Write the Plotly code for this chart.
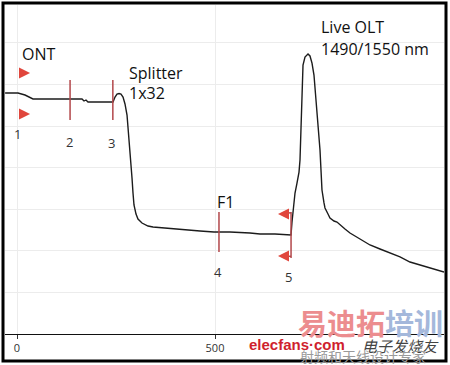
import plotly.graph_objects as go

# ---- OTDR trace (distance in m, relative level in dB) ----
dist = [-30, 2.5, 20.2, 40.4, 108.6, 164.1, 169.2, 174.2, 179.3, 242.4, 247.5, 252.5,
        257.6, 262.6, 267.7, 272.7, 277.8, 280.3, 285.3, 287.9, 290.4, 292.9, 295.4,
        300.5, 305.5, 315.6, 330.8, 343.4, 373.7, 411.6, 462.1, 497.4, 537.8, 588.3,
        613.6, 651.5, 691.9, 694.4, 696.9, 702.0, 707.0, 712.1, 714.6, 717.1, 719.6,
        722.2, 727.2, 734.8, 739.8, 744.9, 749.9, 755.0, 760.0, 762.6, 765.1, 767.6,
        770.1, 775.2, 777.7, 785.3, 790.3, 800.4, 808.0, 828.2, 840.8, 866.1, 891.3,
        916.6, 941.8, 967.1, 992.3, 1017.6, 1042.8, 1060.5, 1078.2]
level = [28.97, 28.97, 28.73, 28.25, 28.25, 28.25, 28.01, 28.13, 27.89, 27.89, 28.49, 28.85,
         28.91, 28.85, 28.49, 27.65, 26.32, 24.88, 22.72, 20.55, 18.75, 16.95, 15.51,
         14.42, 13.82, 13.34, 12.98, 12.86, 12.74, 12.50, 12.38, 12.26, 12.26, 12.14,
         12.02, 12.02, 11.90, 13.46, 14.90, 16.95, 18.15, 19.47, 20.91, 24.52, 28.73,
         32.33, 33.30, 33.66, 33.42, 32.57, 31.13, 28.13, 25.72, 23.92, 22.12, 19.71,
         17.31, 15.75, 15.15, 14.42, 13.94, 13.58, 13.46, 12.62, 12.14, 11.42, 10.70,
         10.22, 9.74, 9.26, 8.65, 8.29, 7.93, 7.69, 7.45]

# ---- events ----
event_ids = ["1", "2", "3", "4", "5"]
event_dist = [0, 134, 242, 510, 692]
event_top = [None, 30.53, 30.53, 14.66, 14.66]
event_bottom = [None, 25.72, 25.72, 9.86, 9.14]
event_label_level = [24.0, 23.1, 22.96, 7.45, 6.85]

x_tickvals = [0, 500]
x_ticktext = ["0", "500"]

X_RANGE = [-30.3, 1078.2]
Y_RANGE = [0, 39.55]

W, H = 450, 365
ML, MR, MT, MB = 5, 6, 5, 31
PW, PH = W - ML - MR, H - MT - MB


def px_x(px):
    return X_RANGE[0] + (px - ML) / PW * (X_RANGE[1] - X_RANGE[0])


def px_y(py):
    return Y_RANGE[0] + (H - MB - py) / PH * (Y_RANGE[1] - Y_RANGE[0])


def paper_x(px):
    return (px - ML) / PW


def paper_y(py):
    return (H - MB - py) / PH


RED_LINE = "#b2474a"
RED_ARROW = "#e0463c"

fig = go.Figure()

fig.add_trace(go.Scatter(x=dist, y=level, mode="lines",
                         line=dict(color="#1c1c1c", width=1.4),
                         hoverinfo="skip", showlegend=False))

# event marker lines
mx, my = [], []
for d, t, b in zip(event_dist, event_top, event_bottom):
    if t is None:
        continue
    mx += [d, d, None]
    my += [b, t, None]
fig.add_trace(go.Scatter(x=mx, y=my, mode="lines",
                         line=dict(color=RED_LINE, width=1.5),
                         hoverinfo="skip", showlegend=False))

# event 5 horizontal stubs
d5, t5, b5 = event_dist[4], event_top[4], event_bottom[4]
fig.add_trace(go.Scatter(x=[d5 - 12, d5, None, d5 - 12, d5],
                         y=[t5 - 0.1, t5 - 0.1, None, b5 + 0.2, b5 + 0.2],
                         mode="lines", line=dict(color=RED_LINE, width=1.5),
                         hoverinfo="skip", showlegend=False))

annotations = []

# arrows for event 1 (pointing right) and event 5 (pointing left)
for yy in (px_y(73), px_y(114)):
    annotations.append(dict(x=event_dist[0] + 33, y=yy, ax=-11, ay=0, text="",
                            showarrow=True, arrowhead=2, arrowsize=1.3,
                            arrowwidth=1.7, arrowcolor=RED_ARROW))
for yy in (px_y(214), px_y(256)):
    annotations.append(dict(x=event_dist[4] - 33, y=yy, ax=10, ay=0, text="",
                            showarrow=True, arrowhead=2, arrowsize=1.3,
                            arrowwidth=1.7, arrowcolor=RED_ARROW))

# event numbers
label_px_offset = [0, -1, -1, -1, -3]
for eid, d, lv, off in zip(event_ids, event_dist, event_label_level, label_px_offset):
    annotations.append(dict(x=d, y=lv, text=eid, showarrow=False, xshift=off,
                            font=dict(family="Open Sans", size=13, color="#333333")))

TXT = dict(family="Open Sans", size=16, color="#111111")
annotations += [
    dict(x=px_x(20), y=px_y(54), text="ONT", xanchor="left", showarrow=False, font=TXT),
    dict(x=px_x(127), y=px_y(73), text="Splitter", xanchor="left", showarrow=False, font=TXT),
    dict(x=px_x(127), y=px_y(93), text="1x32", xanchor="left", showarrow=False, font=TXT),
    dict(x=px_x(215), y=px_y(202), text="F1", xanchor="left", showarrow=False, font=TXT),
    dict(x=px_x(319), y=px_y(27), text="Live OLT", xanchor="left", showarrow=False, font=TXT),
    dict(x=px_x(319), y=px_y(49), text="1490/1550 nm", xanchor="left", showarrow=False, font=TXT),
]

# watermark
annotations += [
    dict(xref="paper", yref="paper", x=paper_x(296), y=paper_y(322), xanchor="left",
         yanchor="middle", showarrow=False,
         text='<b><span style="color:#ec8d8f">易迪拓</span><span style="color:#a4b8db">培训</span></b>',
         font=dict(family="Noto Sans CJK SC", size=29)),
    dict(xref="paper", yref="paper", x=paper_x(247), y=paper_y(344), xanchor="left",
         yanchor="middle", showarrow=False, text="<b>elecfans·com</b>",
         font=dict(family="Liberation Sans", size=15, color="#cf1f2e")),
    dict(xref="paper", yref="paper", x=paper_x(360), y=paper_y(345), xanchor="left",
         yanchor="middle", showarrow=False, text="<i>电子发烧友</i>",
         font=dict(family="Noto Sans CJK SC", size=15, color="#444444")),
    dict(xref="paper", yref="paper", x=paper_x(298), y=paper_y(356), xanchor="left",
         yanchor="middle", showarrow=False, text="射频和天线设计专家",
         font=dict(family="Noto Sans CJK SC", size=14, color="#9a9a9a")),
]

shapes = [
    dict(type="rect", xref="paper", yref="paper",
         x0=paper_x(3), x1=paper_x(446), y0=paper_y(361), y1=paper_y(3),
         line=dict(color="#000000", width=3), fillcolor="rgba(0,0,0,0)", layer="above"),
]

fig.update_layout(
    template="none",
    width=W, height=H,
    margin=dict(l=ML, r=MR, t=MT, b=MB, pad=0, autoexpand=False),
    paper_bgcolor="white", plot_bgcolor="white",
    showlegend=False,
    annotations=annotations,
    shapes=shapes,
    xaxis=dict(range=X_RANGE, tickvals=x_tickvals, ticktext=x_ticktext,
               automargin=False,
               showgrid=True, gridcolor="#ececec", gridwidth=1,
               zeroline=False, showline=True, linecolor="#111111", linewidth=1,
               ticks="outside", ticklen=4, tickcolor="#333333",
               tickfont=dict(family="Open Sans", size=11, color="#333333")),
    yaxis=dict(range=Y_RANGE, dtick=5, showticklabels=False, automargin=False,
               showgrid=True, gridcolor="#ececec", gridwidth=1,
               zeroline=False, showline=False, ticks=""),
)

fig.write_html("out.html",
               config={"displayModeBar": False},
               post_script="document.body.style.margin='0';document.body.style.overflow='hidden';")
